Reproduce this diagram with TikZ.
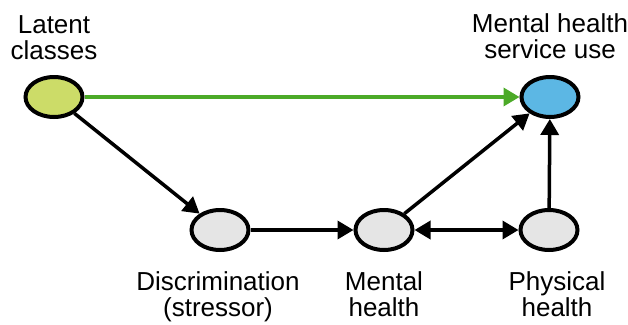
\documentclass[tikz,border=0pt]{standalone}
\usepackage{fontspec}
\setmainfont{Liberation Sans}
\usetikzlibrary{arrows.meta,shapes.geometric,positioning}

\definecolor{latentgreen}{RGB}{204,220,104}
\definecolor{pathgreen}{RGB}{76,170,40}
\definecolor{useblue}{RGB}{92,183,228}
\definecolor{vargray}{RGB}{229,229,229}

\begin{document}
\begin{tikzpicture}[x=1pt, y=-1pt, ->, >={Triangle[length=16pt, width=18pt]},
                    line width=3.5pt]
    \tikzstyle{every node}=[font=\fontsize{26}{26}\selectfont]
    \tikzstyle{var}=[ellipse, draw, line width=4pt, minimum width=57pt,
                     minimum height=40pt, fill=vargray]
    \tikzstyle{lbl}=[align=center, inner sep=0pt, outer sep=0pt]

    \useasboundingbox (0,0) rectangle (628,324);

    \node[var, fill=latentgreen] (LC)  at (54,97)   {};
    \node[var, fill=useblue]     (MHS) at (550,97)  {};
    \node[var]                   (DS)  at (220,230) {};
    \node[var]                   (MH)  at (384,230) {};
    \node[var]                   (PH)  at (549,230) {};

    \node[lbl, above=15pt of LC]  (LClbl)  {Latent\\classes};
    \node[lbl, above=16pt of MHS] (MHSlbl) {Mental health\\service use};
    \node[lbl, below=20pt of DS, xshift=-2pt] (DSlbl) {Discrimination\\(stressor)};
    \node[lbl, below=20pt of MH]  (MHlbl)  {Mental\\health};
    \node[lbl, below=20pt of PH, xshift=8pt] (PHlbl) {Physical\\health};

    \path (LC) edge [pathgreen] (MHS);
    \path (LC) edge             (DS);
    \path (DS) edge             (MH);
    \path (MH) edge [<->]       (PH);
    \path (MH) edge             (MHS);
    \path (PH) edge             (MHS);
\end{tikzpicture}
\end{document}
